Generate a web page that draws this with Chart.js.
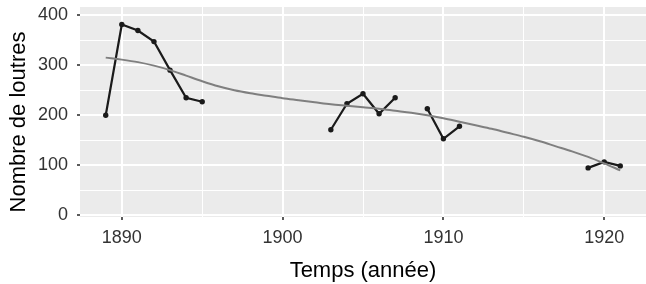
<!DOCTYPE html>
<html lang="fr">
<head>
<meta charset="utf-8">
<script src="https://cdn.jsdelivr.net/npm/chart.js@4.4.1/dist/chart.umd.min.js"></script>
<style>
  html, body { margin: 0; padding: 0; background: #fff; overflow: hidden; }
  #cadre { width: 650px; height: 284px; }
</style>
</head>
<body>
<div id="cadre"><canvas id="graphique"></canvas></div>
<script>
// observations (années avec données)
const annees = [1889, 1890, 1891, 1892, 1893, 1894, 1895,
                1903, 1904, 1905, 1906, 1907,
                1909, 1910, 1911,
                1919, 1920, 1921];
const loutres = [200, 381, 369, 347, 290, 235, 227,
                 171, 223, 243, 203, 235,
                 213, 153, 178,
                 95, 107, 99];

// courbe de tendance lissée
const anneesLissage = [1889, 1890, 1891, 1892, 1893, 1894, 1895, 1896, 1897, 1898, 1899,
                       1900, 1901, 1902, 1903, 1904, 1905, 1906, 1907, 1908, 1909, 1910,
                       1911, 1912, 1913, 1914, 1915, 1916, 1917, 1918, 1919, 1920, 1921];
const lissage = [315, 311, 306, 299, 290, 279, 268, 258, 250, 244, 239,
                 234, 230, 226, 222, 219, 216, 213, 209, 205, 200, 194,
                 187, 180, 173, 165, 157, 148, 138, 128, 117, 104, 90];

const ticksX = [1890, 1895, 1900, 1905, 1910, 1915, 1920];
const ticksY = [0, 50, 100, 150, 200, 250, 300, 350, 400];
const titreX = 'Temps (année)';
const titreY = 'Nombre de loutres';

const police = '"Liberation Sans", Arial, Helvetica, sans-serif';

const estMajeur = (v, pas) => v % pas === 0;

const habillage = {
    id: 'habillage',
    beforeDraw(chart) {
        const { ctx, chartArea: a } = chart;
        ctx.save();
        ctx.fillStyle = '#ebebeb';
        ctx.fillRect(a.left, a.top, a.right - a.left, a.bottom - a.top);
        ctx.restore();
    },
    afterDraw(chart) {
        const { ctx } = chart;
        ctx.save();
        ctx.fillStyle = '#000';
        ctx.font = '22px ' + police;
        ctx.textAlign = 'center';
        ctx.textBaseline = 'alphabetic';
        ctx.translate(25, 122);
        ctx.rotate(-Math.PI / 2);
        ctx.fillText(titreY, 0, 0);
        ctx.restore();
    }
};

const ctx = document.getElementById('graphique').getContext('2d');
new Chart(ctx, {
    type: 'line',
    data: {
        datasets: [{
            label: 'lissage',
            data: anneesLissage.map((a, i) => ({ x: a, y: lissage[i] })),
            borderColor: '#7f7f7f',
            borderWidth: 2,
            pointRadius: 0,
            cubicInterpolationMode: 'monotone',
            fill: false
        }, {
            label: 'loutres',
            data: annees.map((a, i) => ({ x: a, y: loutres[i] })),
            borderColor: '#1a1a1a',
            backgroundColor: '#1a1a1a',
            borderWidth: 2.2,
            pointRadius: 2.7,
            pointBorderWidth: 0,
            tension: 0,
            fill: false,
            segment: {
                borderColor: c => (c.p1.parsed.x - c.p0.parsed.x > 1 ? 'rgba(0,0,0,0)' : '#1a1a1a')
            }
        }]
    },
    options: {
        responsive: true,
        maintainAspectRatio: false,
        animation: false,
        layout: { padding: { top: 7, right: 0, bottom: 0, left: 0 } },
        plugins: { legend: { display: false }, tooltip: { enabled: false } },
        scales: {
            x: {
                type: 'linear',
                min: 1887.4,
                max: 1922.6,
                afterBuildTicks: s => { s.ticks = ticksX.map(v => ({ value: v })); },
                afterFit: s => { s.height = 67; s.paddingLeft = 0; s.paddingRight = 0; },
                border: { display: false },
                grid: {
                    color: '#ffffff',
                    lineWidth: c => (c.tick && estMajeur(c.tick.value, 10) ? 2 : 1),
                    tickLength: 3,
                    tickWidth: 1.6,
                    tickColor: c => (c.tick && estMajeur(c.tick.value, 10) ? '#333333' : 'rgba(0,0,0,0)')
                },
                ticks: {
                    padding: 7,
                    color: '#333333',
                    font: { family: police, size: 18 },
                    maxRotation: 0,
                    autoSkip: false,
                    callback: v => (estMajeur(v, 10) ? String(v) : '')
                },
                title: {
                    display: true,
                    text: titreX,
                    color: '#000',
                    font: { family: police, size: 22 },
                    padding: 0
                }
            },
            y: {
                type: 'linear',
                min: -3,
                max: 416,
                afterBuildTicks: s => { s.ticks = ticksY.map(v => ({ value: v })); },
                afterFit: s => { s.width = 80; s.paddingTop = 0; s.paddingBottom = 0; },
                border: { display: false },
                grid: {
                    color: '#ffffff',
                    lineWidth: c => (c.tick && estMajeur(c.tick.value, 100) ? 2 : 1),
                    tickLength: 3,
                    tickWidth: 1.6,
                    tickColor: c => (c.tick && estMajeur(c.tick.value, 100) ? '#333333' : 'rgba(0,0,0,0)')
                },
                ticks: {
                    padding: 9,
                    color: '#333333',
                    font: { family: police, size: 18 },
                    autoSkip: false,
                    callback: v => (estMajeur(v, 100) ? String(v) : '')
                }
            }
        }
    },
    plugins: [habillage]
});
</script>
</body>
</html>
